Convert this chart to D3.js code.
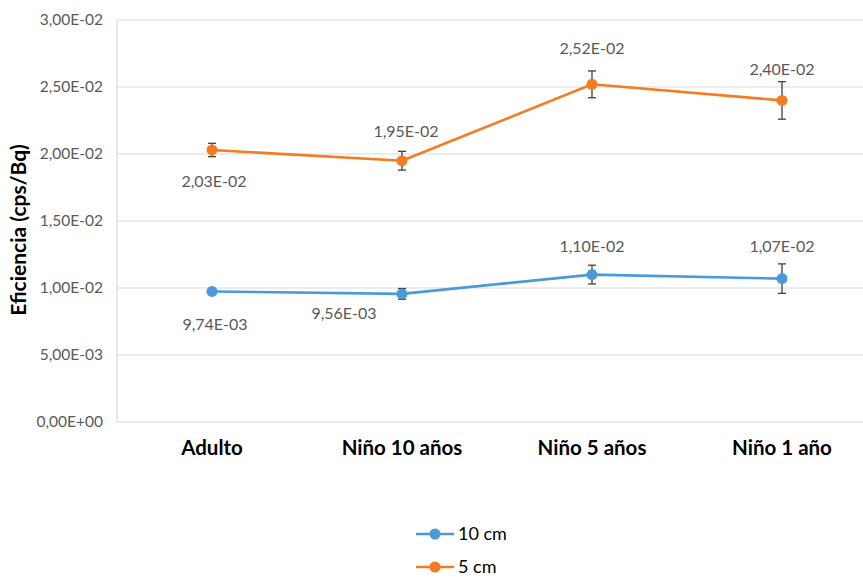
<!DOCTYPE html>
<html><head><meta charset="utf-8">
<script src="https://cdn.jsdelivr.net/npm/d3@7"></script>
<style>body{margin:0;background:#fff}svg{display:block}</style>
</head><body>
<svg id="c" width="863" height="579"></svg>
<script>
const categories = ["Adulto", "Niño 10 años", "Niño 5 años", "Niño 1 año"];
const cm10 = [0.00974, 0.00956, 0.0110, 0.0107];
const cm10Err = [0.0002, 0.0004, 0.0007, 0.0011];
const cm10Labels = ["9,74E-03", "9,56E-03", "1,10E-02", "1,07E-02"];
const cm5 = [0.0203, 0.0195, 0.0252, 0.0240];
const cm5Err = [0.0005, 0.0007, 0.0010, 0.0014];
const cm5Labels = ["2,03E-02", "1,95E-02", "2,52E-02", "2,40E-02"];
const yTicks = [0, 0.005, 0.01, 0.015, 0.02, 0.025, 0.03];
const yTickLabels = ["0,00E+00", "5,00E-03", "1,00E-02", "1,50E-02", "2,00E-02", "2,50E-02", "3,00E-02"];

const svg = d3.select("#c");
const L = 117, R = 877, T = 20, B = 422;
const x = d3.scaleBand().domain(categories).range([L, R]);
const y = d3.scaleLinear().domain([0, 0.03]).range([B, T]);
const font = "Lato, 'Liberation Sans', sans-serif";

// grid
svg.append("g").selectAll("line").data(yTicks).join("line")
  .attr("x1", L).attr("x2", R).attr("y1", d => y(d)).attr("y2", d => y(d))
  .attr("stroke", "#d9d9d9").attr("stroke-width", 1.2);
svg.append("line").attr("x1", L).attr("x2", L).attr("y1", T).attr("y2", B)
  .attr("stroke", "#d9d9d9").attr("stroke-width", 1.2);

// y tick labels
svg.append("g").selectAll("text").data(yTicks).join("text")
  .attr("x", 103).attr("y", d => y(d)).attr("dy", "0.35em")
  .attr("text-anchor", "end").attr("font-family", font).attr("font-size", 15.5)
  .attr("fill", "#595959").text((d, i) => yTickLabels[i]);

// y title
svg.append("text").attr("transform", "translate(26,230) rotate(-90)")
  .attr("text-anchor", "middle").attr("font-family", font).attr("font-weight", "bold")
  .attr("font-size", 21).attr("fill", "#000").text("Eficiencia (cps/Bq)");

// x labels
svg.append("g").selectAll("text").data(categories).join("text")
  .attr("x", d => x(d) + x.bandwidth() / 2).attr("y", 455)
  .attr("text-anchor", "middle").attr("font-family", font).attr("font-weight", "bold")
  .attr("font-size", 20.5).attr("fill", "#000").text(d => d);

const cx = d => x(d) + x.bandwidth() / 2;
function series(vals, errs, labels, color, labelPos) {
  const g = svg.append("g");
  const data = categories.map((c, i) => ({c, v: vals[i], e: errs[i], l: labels[i], p: labelPos[i]}));
  g.append("path").datum(data)
    .attr("d", d3.line().x(d => cx(d.c)).y(d => y(d.v)))
    .attr("fill", "none").attr("stroke", color).attr("stroke-width", 2.6);
  const eb = g.append("g").attr("stroke", "#404040").attr("stroke-width", 1.3);
  data.forEach(d => {
    eb.append("line").attr("x1", cx(d.c)).attr("x2", cx(d.c)).attr("y1", y(d.v - d.e)).attr("y2", y(d.v + d.e));
    eb.append("line").attr("x1", cx(d.c) - 4).attr("x2", cx(d.c) + 4).attr("y1", y(d.v - d.e)).attr("y2", y(d.v - d.e));
    eb.append("line").attr("x1", cx(d.c) - 4).attr("x2", cx(d.c) + 4).attr("y1", y(d.v + d.e)).attr("y2", y(d.v + d.e));
  });
  g.selectAll("circle").data(data).join("circle")
    .attr("cx", d => cx(d.c)).attr("cy", d => y(d.v)).attr("r", 5.5).attr("fill", color);
  g.selectAll("text").data(data).join("text")
    .attr("x", d => cx(d.c) + d.p[0]).attr("y", d => y(d.v) + d.p[1])
    .attr("text-anchor", "middle").attr("font-family", font).attr("font-size", 16)
    .attr("fill", "#595959").text(d => d.l);
}
series(cm5, cm5Err, cm5Labels, "#f47b20", [[2, 37], [4, -24], [0, -30], [0, -25]]);
series(cm10, cm10Err, cm10Labels, "#4a9ad9", [[3, 39], [-58, 25], [0, -23], [0, -27]]);

// legend
const leg = [["10 cm", "#4a9ad9", 534], ["5 cm", "#f47b20", 567]];
leg.forEach(([t, c, yy]) => {
  svg.append("line").attr("x1", 416).attr("x2", 454).attr("y1", yy).attr("y2", yy)
    .attr("stroke", c).attr("stroke-width", 2.6);
  svg.append("circle").attr("cx", 435).attr("cy", yy).attr("r", 5.5).attr("fill", c);
  svg.append("text").attr("x", 458).attr("y", yy).attr("dy", "0.35em")
    .attr("font-family", font).attr("font-size", 18).attr("fill", "#000").text(t);
});
</script>
</body></html>
